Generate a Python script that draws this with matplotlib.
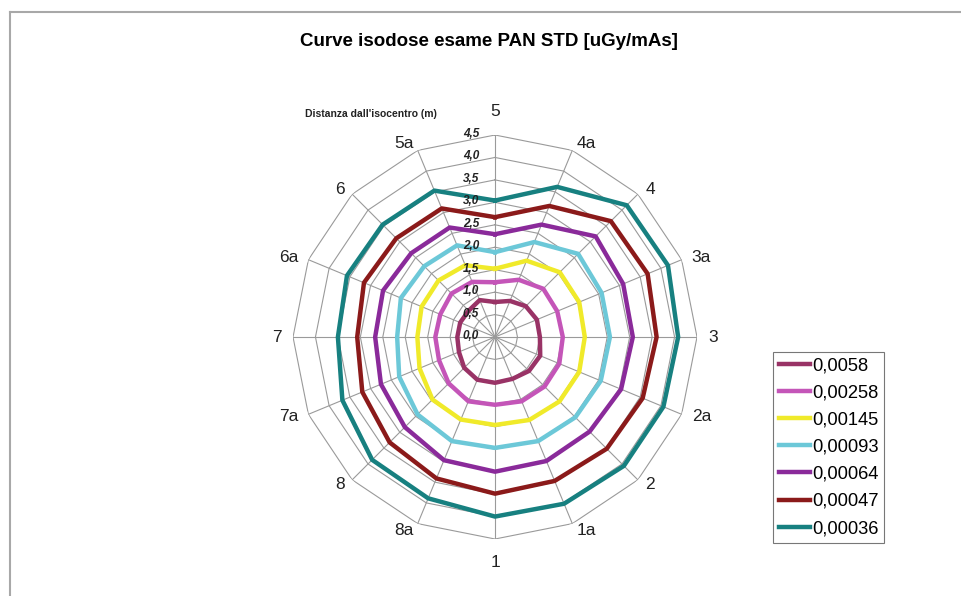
import numpy as np
import matplotlib
matplotlib.use('Agg')
import matplotlib.pyplot as plt
from matplotlib.lines import Line2D
from matplotlib.transforms import offset_copy

plt.rcParams['font.family'] = ['Liberation Sans', 'DejaVu Sans']

# directions, clockwise from the top
categories = ['5', '4a', '4', '3a', '3', '2a', '2', '1a', '1', '8a', '8', '7a', '7', '6a', '6', '5a']

# distance from isocentre (m) for each isodose level
s_0058 = [0.78, 0.87, 0.97, 1.01, 1.00, 1.09, 1.07, 1.01, 1.02, 1.03, 0.97, 0.87, 0.84, 0.84, 0.83, 0.89]
s_00258 = [1.22, 1.38, 1.52, 1.50, 1.51, 1.55, 1.56, 1.55, 1.51, 1.55, 1.46, 1.35, 1.33, 1.32, 1.37, 1.33]
s_00145 = [1.52, 1.84, 2.04, 2.03, 2.00, 2.03, 2.03, 2.00, 1.96, 1.99, 1.97, 1.82, 1.73, 1.77, 1.78, 1.73]
s_00093 = [1.89, 2.29, 2.62, 2.57, 2.56, 2.55, 2.53, 2.51, 2.47, 2.51, 2.44, 2.31, 2.18, 2.27, 2.23, 2.21]
s_00064 = [2.29, 2.71, 3.17, 3.09, 3.07, 3.04, 2.98, 2.99, 3.00, 2.97, 2.84, 2.75, 2.67, 2.70, 2.64, 2.64]
s_00047 = [2.67, 3.16, 3.65, 3.68, 3.60, 3.56, 3.52, 3.47, 3.49, 3.41, 3.32, 3.20, 3.07, 3.16, 3.11, 3.10]
s_00036 = [3.04, 3.62, 4.15, 4.17, 4.08, 4.06, 4.06, 4.02, 4.00, 3.89, 3.87, 3.68, 3.50, 3.57, 3.54, 3.53]

series = [s_0058, s_00258, s_00145, s_00093, s_00064, s_00047, s_00036]
labels = ['0,0058', '0,00258', '0,00145', '0,00093', '0,00064', '0,00047', '0,00036']
colors = ['#993366', '#c455b8', '#f0ea2a', '#6cc8d8', '#8a2a9a', '#8b1a1a', '#178080']

r_ticks = [0.0, 0.5, 1.0, 1.5, 2.0, 2.5, 3.0, 3.5, 4.0, 4.5]
r_labels = ['0,0', '0,5', '1,0', '1,5', '2,0', '2,5', '3,0', '3,5', '4,0', '4,5']

fig = plt.figure(figsize=(9.61, 5.96), dpi=100)

# chart frame (only top and left edges are visible)
fig.add_artist(Line2D([10/961, 1], [1 - 12/596, 1 - 12/596], color='#a8a8a8', lw=1.5))
fig.add_artist(Line2D([10/961, 10/961], [0, 1 - 12/596], color='#a8a8a8', lw=1.5))

ax = fig.add_axes([0.3049, 0.0956, 0.4204, 0.6779], projection='polar')
ax.set_theta_offset(np.pi / 2)
ax.set_theta_direction(-1)
ax.set_ylim(0, 4.5)
ax.grid(False)
ax.spines['polar'].set_visible(False)
ax.set_yticks([])
ax.set_xticks([])

angles = np.linspace(0, 2 * np.pi, len(categories), endpoint=False)
closed = np.append(angles, angles[0])

# polygon grid and spokes
for r in r_ticks[1:]:
    ax.plot(closed, [r] * len(closed), color='#9a9a9a', lw=0.8, zorder=1)
for a in angles:
    ax.plot([a, a], [0, 4.5], color='#9a9a9a', lw=0.8, zorder=1)

for vals, lab, col in zip(series, labels, colors):
    ax.plot(closed, vals + vals[:1], color=col, lw=3.2, label=lab, zorder=3)

# category labels, aligned by side like the spreadsheet does
for a, cat in zip(angles, categories):
    s, c = np.sin(a), np.cos(a)
    ha = 'center' if abs(s) < 1e-6 else ('left' if s > 0 else 'right')
    dy = -4 * c if abs(s) > 1e-6 else 0
    if abs(s) < 1e-6:
        va = 'bottom' if c > 0 else 'top'
        dy = 5 * np.sign(c)
    else:
        va = 'center'
    tr = offset_copy(ax.transData, fig=fig, x=0, y=dy, units='dots')
    ax.text(a, 4.745, cat, transform=tr, ha=ha, va=va, fontsize=12.5,
            color='#222222', clip_on=False)

trans = offset_copy(ax.transData, fig=fig, x=-16, y=1, units='dots')
for r, lab in zip(r_ticks, r_labels):
    ax.text(0, r, lab, transform=trans, ha='right', va='center',
            fontsize=8.5, fontweight='bold', fontstyle='italic', color='#222222', zorder=5)

fig.text(305/961, 1 - 114/596, "Distanza dall'isocentro (m)", fontsize=7.5,
         fontweight='bold', ha='left', va='center', color='#222222')

fig.suptitle('Curve isodose esame PAN STD [uGy/mAs]', x=0.509, y=1 - 42/596,
             fontsize=13.5, fontweight='bold', va='center')

leg = ax.legend(loc='upper left', bbox_to_anchor=(773/961, 1 - 352/596),
                bbox_transform=fig.transFigure, frameon=True, fancybox=False,
                edgecolor='#555555', fontsize=13.2, handlelength=1.7,
                handletextpad=0.15, labelspacing=0.55, borderpad=0.3,
                borderaxespad=0)
leg.get_frame().set_linewidth(0.8)

fig.savefig('out.png', dpi=100)
